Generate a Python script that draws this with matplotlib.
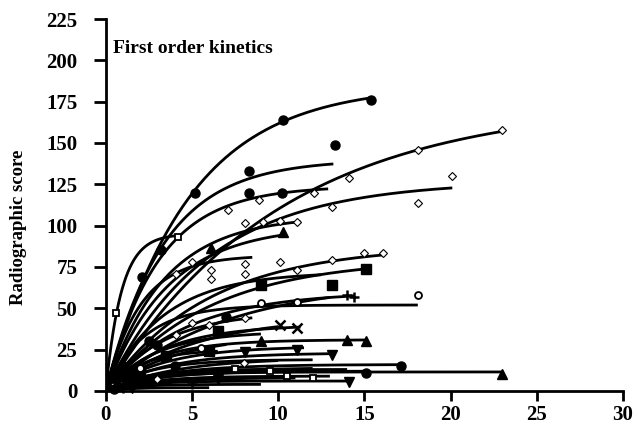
import numpy as np
import matplotlib
matplotlib.use("Agg")
import matplotlib.pyplot as plt

# fitted first order curves: plateau, rate constant, last follow-up time
plateau = [185, 140, 175, 127, 106, 124, 100, 95, 88, 80, 82, 72, 66, 60, 52,
           48, 45, 40, 36, 31, 27, 23, 19, 16, 13, 11.5, 12, 9, 6, 4, 2,
           34, 25, 20, 14, 8]
rate = [0.207, 0.30, 0.099, 0.17, 0.30, 0.33, 0.28, 1.1, 0.17, 0.17, 0.5, 0.3,
        0.15, 0.22, 0.45, 0.3, 0.2, 0.3, 0.35, 0.35, 0.3, 0.3, 0.4, 0.3, 0.5,
        0.4, 0.35, 0.4, 0.5, 0.6, 0.8,
        0.25, 0.5, 0.25, 0.3, 0.35]
t_end = [15.4, 13.2, 23.0, 20.1, 11.3, 12.9, 10.3, 4.3, 16.1, 15.1, 8.5, 12.5,
         13.0, 14.4, 18.1, 8.5, 10.0, 11.3, 9.0, 15.1, 11.5, 13.1, 12.0, 17.1,
         14.0, 23.0, 15.1, 13.0, 14.1, 9.0, 6.0,
         7.0, 6.5, 10.0, 12.0, 11.0]

# observed scores (time in years, radiographic score)
obs_t = [[5.2, 10.3, 15.4], [2.1, 3.2, 8.3, 13.3], [8.9, 12.1, 14.1, 18.1, 23.0],
         [7.1, 13.1, 18.1, 20.1], [8.1, 9.1, 10.1, 11.1], [8.3, 10.2],
         [6.1, 10.3], [0.6, 4.2], [6.1, 10.1, 13.1, 15.0, 16.1],
         [9.0, 13.1, 15.1], [4.1, 5.0, 6.1, 8.1], [8.1, 11.1], [1.0, 2.5, 7.0],
         [14.0, 14.4], [9.0, 11.1, 18.1], [4.1, 5.0, 6.0, 8.1], [2.0, 6.5],
         [10.1, 11.1], [1.2, 3.0], [9.0, 14.0, 15.1], [1.5, 6.0], [8.1, 11.1, 13.1],
         [1.0, 4.0], [17.1], [0.8, 7.5, 9.5], [23.0], [15.1], [0.5, 10.5, 12.0],
         [14.1], [1.0, 5.0], [0.5],
         [2.0, 5.5], [1.0, 3.5], [3.0, 8.0], [0.7, 2.5], [1.5, 6.5]]
obs_y = [[120, 164, 176], [69, 85, 133, 149], [115.5, 120, 129, 146, 158],
         [109.5, 111, 114, 130], [101.6, 102, 103, 102], [120, 120],
         [86.5, 96], [47, 93], [68, 78, 79, 83.5, 83.5],
         [64, 64, 74], [71, 78, 73, 77], [71, 73], [15, 30, 45],
         [58, 57], [53, 54, 58], [34, 41, 40, 44], [12, 36],
         [40, 38], [12, 28], [30, 31, 30], [10, 24], [23.6, 25, 22],
         [6, 15], [15], [5, 13, 12], [10.5], [11], [3, 9, 8],
         [5.5], [2, 4], [1],
         [14, 26], [9, 21], [7, 17], [3, 7], [2, 7]]

markers = ['o', 'o', 'D', 'D', 'D', 'o', '^', 'S', 'D', 's', 'D', 'D', 'o', '+',
           'O', 'D', 's', 'x', 'o', '^', 's', 'v', 'o', 'o', 'S', '^', 'o', 'S',
           'v', '+', 'o',
           'O', 's', 'D', 'o', 'v']

plt.rcParams['font.family'] = ['Liberation Serif', 'DejaVu Serif']
plt.rcParams['font.weight'] = 'bold'

fig = plt.figure(figsize=(6.37, 4.32), dpi=100)
ax = fig.add_axes([0.166, 0.095, 0.812, 0.861])

for A, k, te, ts, ys, m in zip(plateau, rate, t_end, obs_t, obs_y, markers):
    t = np.linspace(0, te, 200)
    ax.plot(t, A * (1 - np.exp(-k * t)), color='black', lw=2.0,
            solid_capstyle='butt', zorder=2)
    if m == 'D':
        ax.plot(ts, ys, ls='none', marker='D', ms=4.5, mfc='white',
                mec='black', mew=0.8, zorder=3, clip_on=False)
    elif m in ('O', 'S'):
        ax.plot(ts, ys, ls='none', marker=m.lower(), ms=5, mfc='white',
                mec='black', mew=1.3, zorder=3, clip_on=False)
    elif m in ('+', 'x'):
        ax.plot(ts, ys, ls='none', marker=m, ms=7, mec='black', mew=1.8,
                zorder=3, clip_on=False)
    else:
        ax.plot(ts, ys, ls='none', marker=m, ms=6.5, color='black',
                zorder=3, clip_on=False)

ax.set_xlim(0, 30)
ax.set_ylim(0, 225)
ax.set_xticks(range(0, 31, 5))
ax.set_yticks(range(0, 226, 25))
ax.spines['top'].set_visible(False)
ax.spines['right'].set_visible(False)
ax.spines['left'].set_linewidth(2)
ax.spines['bottom'].set_linewidth(2)
ax.tick_params(direction='out', width=2, labelsize=15)
ax.tick_params(axis='y', length=8.5, pad=12)
ax.tick_params(axis='x', length=7, pad=3)
for lab in ax.get_xticklabels() + ax.get_yticklabels():
    lab.set_fontweight('bold')

ax.set_ylabel('Radiographic score', fontsize=13.5, fontweight='bold')
ax.yaxis.set_label_coords(-0.152, 0.44)
ax.text(0.4, 207, 'First order kinetics', fontsize=14, fontweight='bold',
        va='center', ha='left')

fig.savefig('out.png', dpi=100)
